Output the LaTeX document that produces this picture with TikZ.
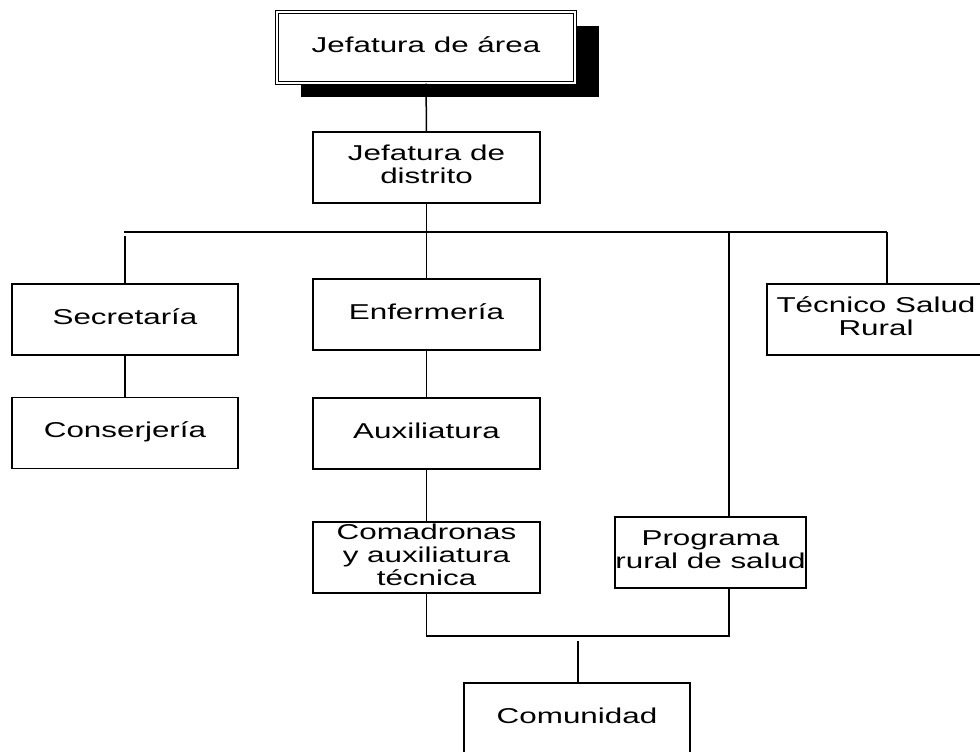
\documentclass[tikz,border=0pt]{standalone}
\usepackage{fontspec}
\usepackage{graphicx}
\setmainfont{Liberation Sans}
\usetikzlibrary{shadows}

\newcommand{\widetext}[1]{\scalebox{1.46}[1]{\begin{tabular}{@{}c@{}}#1\end{tabular}}}

\tikzset{
    orgbox/.style={draw, line width=1.5pt, fill=white, minimum width=#1, minimum height=71pt, inner sep=0pt,
        font=\fontsize{21.5}{23}\selectfont},
    orgbox/.default=227pt,
    orgline/.style={line width=1.5pt}
}

\begin{document}
\begin{tikzpicture}[line cap=butt, line join=miter, x=1pt, y=-1pt]
                \useasboundingbox (0,0) rectangle (980,752);

                \node[orgbox=298pt, double, double distance=2pt, line width=1.1pt,
                    drop shadow={shadow xshift=24pt, shadow yshift=-14pt, fill=black, opacity=1}]
                    (area) at (426, 47.5) {\widetext{Jefatura de área}};
                \node[orgbox] (distrito) at (426.5, 167.5) {\widetext{Jefatura de\\distrito}};

                \node[orgbox=226pt] (secretaria) at (125, 319.5) {\widetext{Secretaría}};
                \node[orgbox=226pt] (conserjeria) at (125, 433) {\widetext{Conserjería}};

                \node[orgbox] (enfermeria) at (426.5, 314.5) {\widetext{Enfermería}};
                \node[orgbox] (auxiliatura) at (426.5, 433.5) {\widetext{Auxiliatura}};
                \node[orgbox] (comadronas) at (426.5, 557.5) {\widetext{Comadronas\\y auxiliatura\\técnica}};

                \node[orgbox=191pt] (programa) at (710.5, 552.5) {\widetext{Programa\\rural de salud}};
                \node[orgbox=218pt] (tecnico) at (876, 319.5) {\widetext{Técnico Salud\\Rural}};

                \node[orgbox=226pt] (comunidad) at (577, 718.5) {\widetext{Comunidad}};

                \coordinate (busL) at (124, 232);
                \coordinate (busR) at (887, 232);
                \coordinate (secdrop) at (125, 236);
                \coordinate (progdrop) at (729, 232);
                \coordinate (joinR) at (729, 636);
                \coordinate (comdrop) at (578, 641);

                \draw[orgline] (area) -- (distrito);
                \draw[orgline] (distrito) -- (enfermeria);
                \draw[orgline] (busL) -- (busR);

                \draw[orgline] (secdrop) -- (secretaria);
                \draw[orgline] (secretaria) -- (conserjeria);

                \draw[orgline] (enfermeria) -- (auxiliatura);
                \draw[orgline] (auxiliatura) -- (comadronas);

                \draw[orgline] (progdrop) -- (progdrop |- programa.north);
                \draw[orgline] (busR) -- (busR |- tecnico.north);

                \draw[orgline] (comadronas.south) |- (joinR) -- (joinR |- programa.south);
                \draw[orgline] (comdrop) -- (comdrop |- comunidad.north);

            \end{tikzpicture}
\end{document}
